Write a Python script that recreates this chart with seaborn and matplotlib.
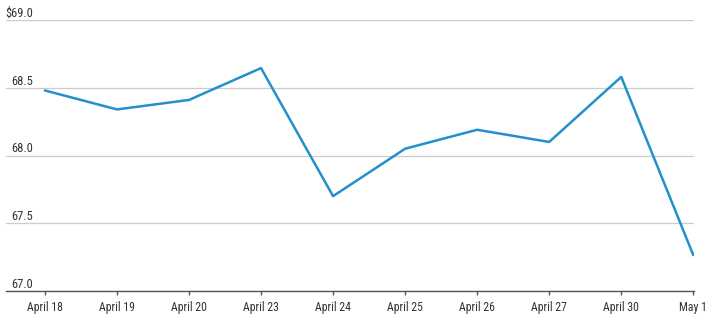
import matplotlib
matplotlib.use("Agg")
import matplotlib.pyplot as plt
import matplotlib.transforms as mtransforms
import seaborn as sns
import pandas as pd
from matplotlib import font_manager

dates = ["April 18", "April 19", "April 20", "April 23", "April 24",
         "April 25", "April 26", "April 27", "April 30", "May 1"]
prices = [68.48, 68.34, 68.41, 68.645, 67.70, 68.05, 68.19, 68.10, 68.58, 67.265]
y_ticks = [67.0, 67.5, 68.0, 68.5, 69.0]
y_labels = ["67.0", "67.5", "68.0", "68.5", "$69.0"]

sns.set_theme(style="white")

# pick a narrow font if one is installed
fonts = font_manager.fontManager.ttflist
names = {f.name for f in fonts}
stretch = "normal"
fam = None
for cand in ["Liberation Sans Narrow", "Roboto Condensed", "Open Sans Condensed",
             "Noto Sans Condensed", "DejaVu Sans Condensed"]:
    if cand in names:
        fam = cand
        break
if fam is None:
    for f in fonts:
        st = str(f.stretch).lower()
        if f.name in ("DejaVu Sans", "Noto Sans", "Roboto", "Open Sans") and \
                ("condensed" in st or st in ("300", "400") and False):
            fam = f.name
            stretch = "condensed"
            break
if fam is None:
    fam = "Liberation Sans" if "Liberation Sans" in names else "DejaVu Sans"
plt.rcParams["font.family"] = [fam, "DejaVu Sans"]
plt.rcParams["font.stretch"] = stretch

narrow = stretch == "condensed" or "Narrow" in fam or "Condensed" in fam
tick_fs = 8.5 if narrow else 7.8
lab_fs = 9 if narrow else 8.2

df = pd.DataFrame({"date": dates, "price": prices})

fig = plt.figure(figsize=(7.1, 3.2), dpi=100)
ax = fig.add_axes([6 / 710, 1 - 291 / 320, (694 - 6) / 710, (291 - 20) / 320])

sns.lineplot(data=df, x="date", y="price", ax=ax, color="#2390cc",
             linewidth=1.8, sort=False)

ax.set_xlim(-0.54, 9.01)
ax.set_ylim(67.0, 69.0)
ax.set_xlabel("")
ax.set_ylabel("")

for s in ["top", "right", "left"]:
    ax.spines[s].set_visible(False)
ax.spines["bottom"].set_color("#555555")
ax.spines["bottom"].set_linewidth(1.0)

ax.set_yticks(y_ticks)
ax.set_yticklabels([])
ax.tick_params(axis="y", length=0)
ax.yaxis.grid(True, color="#cccccc", linewidth=0.9)
ax.xaxis.grid(False)

ax.set_xticks(range(len(dates)))
ax.set_xticklabels(dates, fontsize=tick_fs, color="#333333")
ax.tick_params(axis="x", length=3, width=1, color="#555555", pad=4, bottom=True)

trans = mtransforms.blended_transform_factory(ax.transAxes, ax.transData)
for v, lab in zip(y_ticks, y_labels):
    ax.text(27 / 688, v, lab, transform=trans, ha="right", va="bottom",
            fontsize=lab_fs, color="#333333")

fig.savefig("out.png", dpi=100)
